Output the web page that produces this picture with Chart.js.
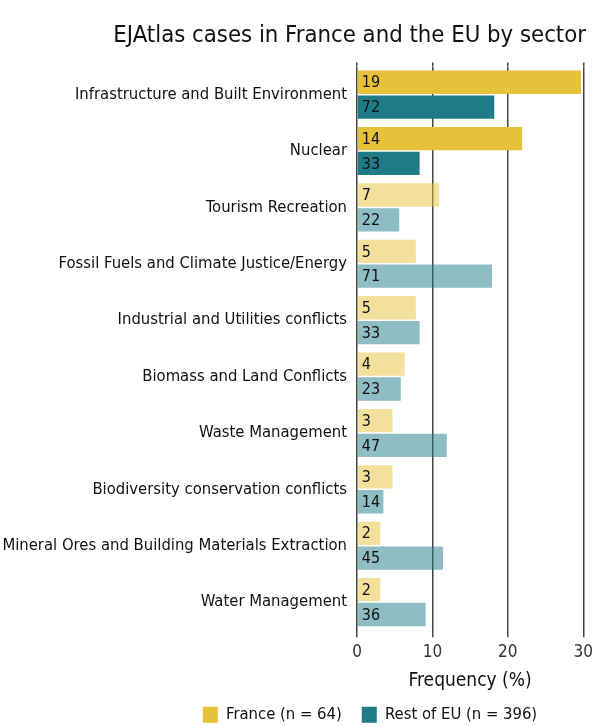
<!DOCTYPE html>
<html>
<head>
<meta charset="utf-8">
<script src="https://cdn.jsdelivr.net/npm/chart.js@4"></script>
<style>
  html, body { margin: 0; padding: 0; background: #fff; }
  #wrap { width: 598px; height: 727px; }
</style>
</head>
<body>
<div id="wrap"><canvas id="chart"></canvas></div>
<script>
// Sectors, top to bottom
const sectors = [
  'Infrastructure and Built Environment',
  'Nuclear',
  'Tourism Recreation',
  'Fossil Fuels and Climate Justice/Energy',
  'Industrial and Utilities conflicts',
  'Biomass and Land Conflicts',
  'Waste Management',
  'Biodiversity conservation conflicts',
  'Mineral Ores and Building Materials Extraction',
  'Water Management'
];

// Number of cases (printed inside the bars)
const franceCounts = [19, 14, 7, 5, 5, 4, 3, 3, 2, 2];
const euCounts = [72, 33, 22, 71, 33, 23, 47, 14, 45, 36];

// Share of cases, in %
const franceShare = [29.7, 21.9, 10.9, 7.8, 7.8, 6.3, 4.7, 4.7, 3.1, 3.1];
const euShare = [18.2, 8.3, 5.6, 17.9, 8.3, 5.8, 11.9, 3.5, 11.4, 9.1];

const seriesLabels = ['France (n = 64)', 'Rest of EU (n = 396)'];
const xTicks = [0, 10, 20, 30];

const FONT = "'DejaVu Sans Condensed', 'DejaVu Sans', sans-serif";

// first two sectors are drawn in full colour, the rest faded
const strong = ['rgb(229, 194, 58)', 'rgb(30, 123, 135)'];
const faded = ['rgba(229, 194, 58, 0.5)', 'rgba(30, 123, 135, 0.5)'];
const colorsFor = (s) => sectors.map((_, i) => (i < 2 ? strong[s] : faded[s]));

// writes the counts at the base of every bar
const countLabels = {
  id: 'countLabels',
  afterDatasetsDraw(chart) {
    const ctx = chart.ctx;
    const counts = [franceCounts, euCounts];
    ctx.save();
    ctx.font = `16px ${FONT}`;
    ctx.fillStyle = '#111';
    ctx.textBaseline = 'middle';
    ctx.textAlign = 'left';
    chart.data.datasets.forEach((ds, d) => {
      chart.getDatasetMeta(d).data.forEach((bar, i) => {
        ctx.fillText(String(counts[d][i]), bar.base + 4, bar.y + 1);
      });
    });
    ctx.restore();
  }
};

// moves the legend to the right and a little up, like in the original figure
const legendShift = {
  id: 'legendShift',
  afterLayout(chart) {
    if (!chart.legend) return;
    chart.legend.left += 77;
    chart.legend.right += 77;
    chart.legend.top -= 6;
    chart.legend.bottom -= 6;
  }
};

const gridColor = '#444';

new Chart(document.getElementById('chart'), {
  type: 'bar',
  data: {
    labels: sectors,
    datasets: [
      {
        label: seriesLabels[0],
        data: franceShare,
        backgroundColor: colorsFor(0),
        borderWidth: 0,
        categoryPercentage: 0.88,
        barPercentage: 0.94
      },
      {
        label: seriesLabels[1],
        data: euShare,
        backgroundColor: colorsFor(1),
        borderWidth: 0,
        categoryPercentage: 0.88,
        barPercentage: 0.94
      }
    ]
  },
  options: {
    indexAxis: 'y',
    responsive: true,
    maintainAspectRatio: false,
    animation: false,
    layout: { padding: { left: 0, right: 12, top: 0, bottom: -12 } },
    scales: {
      x: {
        position: 'bottom',
        min: 0,
        max: 30,
        afterBuildTicks: (scale) => { scale.ticks = xTicks.map(v => ({ value: v })); },
        ticks: { color: '#333', font: { family: FONT, size: 17 }, padding: 5 },
        grid: { color: gridColor, lineWidth: 1.5, tickLength: 7, tickColor: gridColor },
        border: { display: false },
        title: {
          display: true,
          text: 'Frequency (%)',
          color: '#111',
          font: { family: FONT, size: 19 },
          padding: { top: 2, bottom: 0 }
        }
      },
      x2: {
        position: 'top',
        min: 0,
        max: 30,
        afterBuildTicks: (scale) => { scale.ticks = xTicks.map(v => ({ value: v })); },
        ticks: { display: false },
        grid: { drawOnChartArea: false, color: gridColor, lineWidth: 1.5, tickLength: 4 },
        border: { display: false }
      },
      y: {
        afterFit: (scale) => { scale.width = 357; },
        ticks: { color: '#111', font: { family: FONT, size: 16.5 }, padding: 2 },
        grid: { display: false },
        border: { display: false }
      }
    },
    plugins: {
      title: {
        display: true,
        text: 'EJAtlas cases in France and the EU by sector',
        align: 'end',
        color: '#111',
        font: { family: FONT, size: 23.7, weight: 'normal' },
        padding: { top: 22, bottom: 12 }
      },
      legend: {
        position: 'bottom',
        labels: {
          boxWidth: 15,
          boxHeight: 16,
          padding: 20,
          color: '#111',
          font: { family: FONT, size: 16.5 }
        }
      },
      tooltip: { enabled: false }
    }
  },
  plugins: [countLabels, legendShift]
});
</script>
</body>
</html>
